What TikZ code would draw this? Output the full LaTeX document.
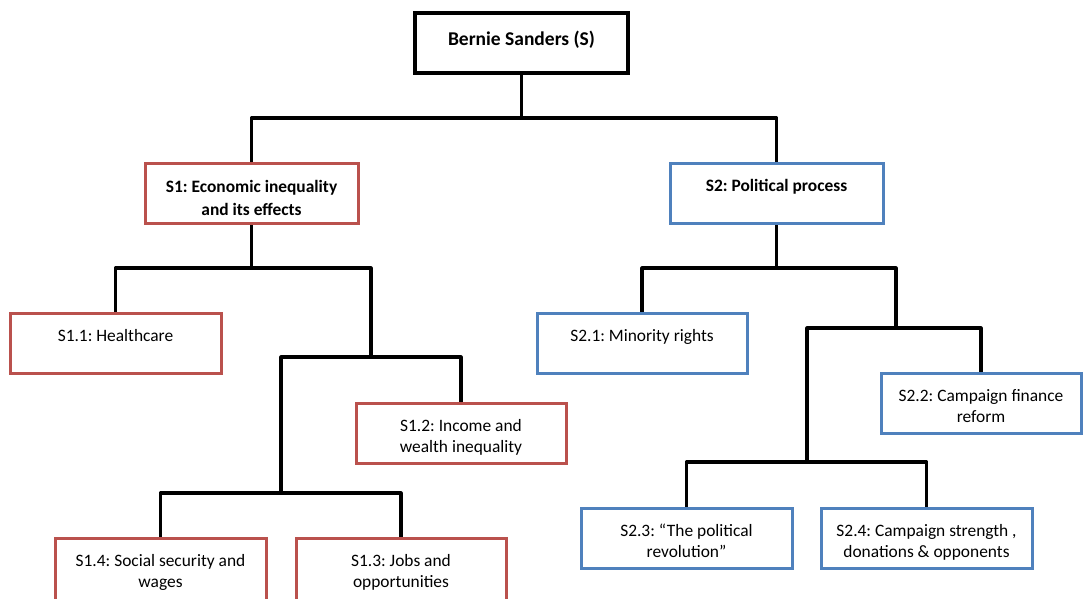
\documentclass[tikz,border=0pt]{standalone}
\usepackage{fontspec}
\setmainfont{Carlito}
\frenchspacing
\usetikzlibrary{calc}
\definecolor{boxred}{HTML}{BA514D}
\definecolor{boxblue}{HTML}{4F81BD}
\pgfdeclarelayer{bg}
\pgfsetlayers{bg,main}
\tikzset{
  box/.style={draw, fill=white, rectangle, outer sep=0pt, inner sep=0pt,
    minimum width=211pt, minimum height=60pt, align=center,
    text height=28pt, text depth=32pt, line width=3pt, anchor=north west,
    font=\fontsize{17.4}{21}\selectfont},
  twoline/.style={text height=49pt, text depth=11pt},
  redbox/.style={box, draw=boxred},
  bluebox/.style={box, draw=boxblue},
  headfont/.style={font=\fontsize{17.4}{23}\selectfont\bfseries},
  conn/.style={draw=black, line width=3.1pt, line join=round}
}
\begin{document}
\begin{tikzpicture}[x=1pt,y=-1pt]
\useasboundingbox (0,0) rectangle (1083,598);
\clip (0,0) rectangle (1083,598);
% root
\node[box, draw=black, line width=4.5pt, minimum width=213pt,
  text height=32pt, text depth=28pt,
  font=\fontsize{19.5}{23}\selectfont\bfseries] (root) at (415,13) {Bernie Sanders (S)};
% level 1
\node[redbox, headfont, minimum width=213pt, text height=52pt, text depth=8pt] (S1) at (145,163)
  {S1: Economic inequality\\and its effects};
\node[bluebox, headfont, minimum width=213pt] (S2) at (670,163)
  {S2: Political process};
% S1 children
\node[redbox] (S11) at (10,313) {S1.1: Healthcare};
\node[redbox, twoline, minimum width=210pt] (S12) at (356,403) {S1.2: Income and\\wealth inequality};
\node[redbox, twoline, minimum height=62pt, text depth=13pt] (S14) at (55,538) {S1.4: Social security and\\wages};
\node[redbox, twoline, minimum width=210pt, minimum height=62pt, text depth=13pt] (S13) at (296,538) {S1.3: Jobs and\\opportunities};
% S2 children
\node[bluebox, minimum width=210pt] (S21) at (537,313) {S2.1: Minority rights};
\node[bluebox, twoline, minimum width=200pt] (S22) at (881,373) {S2.2: Campaign finance\\reform};
\node[bluebox, twoline] (S23) at (581,508) {S2.3: “The political\\revolution”};
\node[bluebox, twoline] (S24) at (821,508) {S2.4: Campaign strength ,\\donations \& opponents};
% junctions
\coordinate (j0) at ($(root.south)+(0,45)$);
\coordinate (jA) at ($(S1.south)+(0,45)$);
\coordinate (jB) at (371,357);
\coordinate (jD) at (281,493);
\coordinate (jE) at ($(S2.south)+(0,45)$);
\coordinate (jF) at (896,328);
\coordinate (jG) at (807,462);
\begin{pgfonlayer}{bg}
\draw[conn] (root.south) -- (j0);
\draw[conn] (S1.north) |- (j0) -| (S2.north);
\draw[conn] (S1.south) -- (jA);
\draw[conn] (S11.north) |- (jA) -| (jB);
\draw[conn] (jD) |- (jB) -| (S12.north);
\draw[conn] (S14.north) |- (jD) -| (S13.north);
\draw[conn] (S2.south) -- (jE);
\draw[conn] (S21.north) |- (jE) -| (jF);
\draw[conn] (jG) |- (jF) -| (S22.north);
\draw[conn] (S23.north) |- (jG) -| (S24.north);
\end{pgfonlayer}
\end{tikzpicture}
\end{document}
